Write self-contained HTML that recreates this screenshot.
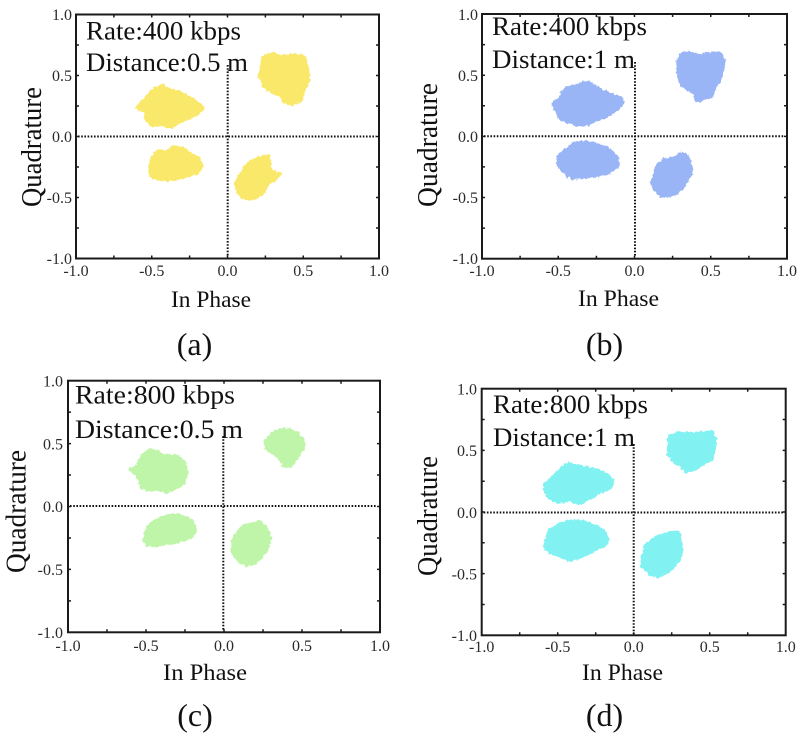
<!DOCTYPE html>
<html><head><meta charset="utf-8"><style>
html,body{margin:0;padding:0;background:#fff;}
svg{display:block;}
text{font-family:"Liberation Serif","Times New Roman",serif;}
.t{font-size:16px;fill:#2a2a2a;}
.ann{font-size:26px;fill:#111;}
.ax{font-size:23px;fill:#111;}
.q{font-size:29px;fill:#111;}
.lab{font-size:32px;fill:#111;}
.fr{fill:none;stroke:#1a1a1a;stroke-width:2;}
.tk{fill:none;stroke:#1a1a1a;stroke-width:1.5;}
.dl{stroke:#111;stroke-width:2;stroke-dasharray:1.6 1.6;}
.bl polygon{stroke-width:3.5;stroke-linejoin:round;}
</style></head><body>
<svg width="800" height="738" viewBox="0 0 800 738" xmlns="http://www.w3.org/2000/svg">
<defs>
<filter id="rough" x="-10%" y="-10%" width="120%" height="120%">
<feTurbulence type="fractalNoise" baseFrequency="0.35" numOctaves="2" seed="3"/>
<feDisplacementMap in="SourceGraphic" scale="4" xChannelSelector="R" yChannelSelector="G"/>
</filter>
</defs>
<rect width="800" height="738" fill="#fff"/>

<!-- ============ Panel (a) ============ -->
<g class="bl" filter="url(#rough)" fill="#FAE86A" stroke="#FAE86A">
<polygon points="263,57 272,54 283,57 292,55 300,56 305,58 307,68 309,80 304,90 301,100 292,104 284,102 280,94 272,92 264,86 260,76 262,66"/>
<polygon points="140,104 148,96 155,88 162,86 170,90 180,92 190,98 198,104 203,108 197,114 188,118 180,122 170,127 162,124 152,125 146,120 146,112 137,108"/>
<polygon points="152,158 158,151 166,152 174,147 182,148 190,154 198,158 202,166 198,172 190,175 180,178 168,180 158,179 151,176 150,166"/>
<polygon points="240,176 246,166 252,161 262,157 268,156 270,166 272,172 280,174 275,179 268,184 262,194 252,199 244,198 238,192 236,183"/>
</g>
<line class="dl" x1="78" y1="136.5" x2="376" y2="136.5"/>
<line class="dl" x1="227.7" y1="65" x2="227.7" y2="257"/>
<rect class="fr" x="76" y="14.5" width="303" height="244"/>
<path class="tk" d="M113.9 258.5v-3M151.75 258.5v-3M189.6 258.5v-3M227.5 258.5v-3M265.4 258.5v-3M303.25 258.5v-3M341.1 258.5v-3
M113.9 14.5v3M151.75 14.5v3M189.6 14.5v3M227.5 14.5v3M265.4 14.5v3M303.25 14.5v3M341.1 14.5v3
M76 45h3M76 75.5h3M76 106h3M76 136.5h3M76 167h3M76 197.5h3M76 228h3
M379 45h-3M379 75.5h-3M379 106h-3M379 136.5h-3M379 167h-3M379 197.5h-3M379 228h-3"/>
<g class="t" text-anchor="end">
<text x="72" y="20">1.0</text><text x="72" y="81">0.5</text><text x="72" y="142">0.0</text><text x="72" y="203">-0.5</text><text x="72" y="264">-1.0</text>
</g>
<g class="t" text-anchor="middle">
<text x="76" y="276">-1.0</text><text x="151.75" y="276">-0.5</text><text x="227.5" y="276">0.0</text><text x="303.25" y="276">0.5</text><text x="379" y="276">1.0</text>
</g>
<text class="ann" x="86" y="39.3" textLength="155" lengthAdjust="spacingAndGlyphs">Rate:400 kbps</text>
<text class="ann" x="86" y="71" textLength="162" lengthAdjust="spacingAndGlyphs">Distance:0.5 m</text>
<text class="ax" x="171" y="307" textLength="80" lengthAdjust="spacingAndGlyphs">In Phase</text>
<text class="q" transform="translate(41,147) rotate(-90)" text-anchor="middle" textLength="120" lengthAdjust="spacingAndGlyphs">Quadrature</text>
<text class="lab" x="194.5" y="355" text-anchor="middle">(a)</text>

<!-- ============ Panel (b) ============ -->
<g class="bl" filter="url(#rough)" fill="#99B5F5" stroke="#99B5F5">
<polygon points="680,55 690,53 700,56 710,54 720,53 724,60 722,72 720,80 714,88 712,96 704,98 700,101 696,100 694,92 686,88 680,82 678,72 678,62"/>
<polygon points="553,104 560,98 566,88 576,86 585,82 592,84 600,90 610,94 620,98 623,103 616,110 606,116 596,120 588,124 578,125 568,122 560,118 556,110"/>
<polygon points="558,157 566,150 574,143 588,142 600,146 610,150 617,158 618,166 610,172 598,175 585,177 572,178 564,172 558,165"/>
<polygon points="654,176 657,166 664,160 674,158 682,153 688,157 690,164 691,174 686,182 680,190 672,195 662,196 655,190 652,182"/>
</g>
<line class="dl" x1="484" y1="136.3" x2="784" y2="136.3"/>
<line class="dl" x1="635" y1="62" x2="635" y2="257"/>
<rect class="fr" x="482" y="14" width="305" height="244.7"/>
<path class="tk" d="M520.1 258.7v-3M558.25 258.7v-3M596.4 258.7v-3M634.5 258.7v-3M672.6 258.7v-3M710.75 258.7v-3M748.9 258.7v-3
M520.1 14v3M558.25 14v3M596.4 14v3M634.5 14v3M672.6 14v3M710.75 14v3M748.9 14v3
M482 44.6h3M482 75.2h3M482 105.8h3M482 136.35h3M482 166.9h3M482 197.5h3M482 228.1h3
M787 44.6h-3M787 75.2h-3M787 105.8h-3M787 136.35h-3M787 166.9h-3M787 197.5h-3M787 228.1h-3"/>
<g class="t" text-anchor="end">
<text x="478" y="20">1.0</text><text x="478" y="81">0.5</text><text x="478" y="142">0.0</text><text x="478" y="203">-0.5</text><text x="478" y="264">-1.0</text>
</g>
<g class="t" text-anchor="middle">
<text x="482" y="276">-1.0</text><text x="558.25" y="276">-0.5</text><text x="634.5" y="276">0.0</text><text x="710.75" y="276">0.5</text><text x="787" y="276">1.0</text>
</g>
<text class="ann" x="492" y="35" textLength="155" lengthAdjust="spacingAndGlyphs">Rate:400 kbps</text>
<text class="ann" x="492" y="68" textLength="143" lengthAdjust="spacingAndGlyphs">Distance:1 m</text>
<text class="ax" x="578" y="306" textLength="81" lengthAdjust="spacingAndGlyphs">In Phase</text>
<text class="q" transform="translate(437,145) rotate(-90)" text-anchor="middle" textLength="124" lengthAdjust="spacingAndGlyphs">Quadrature</text>
<text class="lab" x="604.5" y="355" text-anchor="middle">(b)</text>

<!-- ============ Panel (c) ============ -->
<g class="bl" filter="url(#rough)" fill="#BEF5A8" stroke="#BEF5A8">
<polygon points="266,440 272,434 280,430 290,430 298,434 303,440 304,446 300,452 296,460 290,466 284,466 280,458 272,452 266,448"/>
<polygon points="130,470 138,466 142,456 150,450 158,452 164,456 176,456 184,462 187,472 184,482 176,488 166,492 158,489 150,490 142,488 140,480 136,474"/>
<polygon points="146,532 150,524 158,519 168,516 178,515 188,518 194,524 195,532 190,538 180,541 168,543 156,545 148,545 144,540"/>
<polygon points="233,540 238,532 244,526 252,524 260,522 266,528 270,538 268,548 262,556 254,563 246,565 238,560 232,552"/>
</g>
<line class="dl" x1="70" y1="506" x2="377" y2="506"/>
<line class="dl" x1="223.3" y1="436" x2="223.3" y2="631"/>
<rect class="fr" x="68" y="380.7" width="312" height="251.6"/>
<path class="tk" d="M107 632.3v-3M146 632.3v-3M185 632.3v-3M224 632.3v-3M263 632.3v-3M302 632.3v-3M341 632.3v-3
M107 380.7v3M146 380.7v3M185 380.7v3M224 380.7v3M263 380.7v3M302 380.7v3M341 380.7v3
M68 412.1h3M68 443.6h3M68 475.05h3M68 506.5h3M68 537.95h3M68 569.4h3M68 600.85h3
M380 412.1h-3M380 443.6h-3M380 475.05h-3M380 506.5h-3M380 537.95h-3M380 569.4h-3M380 600.85h-3"/>
<g class="t" text-anchor="end">
<text x="63" y="386.5">1.0</text><text x="63" y="449.5">0.5</text><text x="63" y="512">0.0</text><text x="63" y="575">-0.5</text><text x="63" y="638">-1.0</text>
</g>
<g class="t" text-anchor="middle">
<text x="68" y="651">-1.0</text><text x="146" y="651">-0.5</text><text x="224" y="651">0.0</text><text x="302" y="651">0.5</text><text x="380" y="651">1.0</text>
</g>
<text class="ann" x="75" y="403.5" textLength="160" lengthAdjust="spacingAndGlyphs">Rate:800 kbps</text>
<text class="ann" x="75" y="438" textLength="168" lengthAdjust="spacingAndGlyphs">Distance:0.5 m</text>
<text class="ax" x="163" y="680" textLength="84" lengthAdjust="spacingAndGlyphs">In Phase</text>
<text class="q" transform="translate(25.5,511.5) rotate(-90)" text-anchor="middle" textLength="123" lengthAdjust="spacingAndGlyphs">Quadrature</text>
<text class="lab" x="195" y="726" text-anchor="middle">(c)</text>

<!-- ============ Panel (d) ============ -->
<g class="bl" filter="url(#rough)" fill="#82F1F2" stroke="#82F1F2">
<polygon points="670,436 680,433 692,434 702,433 712,432 715,440 714,450 712,458 706,462 700,466 692,470 686,472 682,466 674,462 668,454 669,444"/>
<polygon points="545,484 552,478 560,470 568,464 578,466 586,468 596,470 606,474 613,480 610,488 600,492 590,498 580,503 570,500 558,502 550,498 546,492"/>
<polygon points="546,540 550,530 560,524 572,521 584,522 596,526 604,532 608,540 604,546 594,550 582,556 570,560 560,556 550,552 545,548"/>
<polygon points="643,556 646,546 652,540 660,536 670,533 678,532 680,540 682,550 679,560 672,568 664,574 656,576 648,572 642,566"/>
</g>
<line class="dl" x1="483.7" y1="512.5" x2="783" y2="512.5"/>
<line class="dl" x1="633.7" y1="444" x2="633.7" y2="634"/>
<rect class="fr" x="481.7" y="388.7" width="304" height="246.6"/>
<path class="tk" d="M519.7 635.3v-3M557.7 635.3v-3M595.7 635.3v-3M633.7 635.3v-3M671.7 635.3v-3M709.7 635.3v-3M747.7 635.3v-3
M519.7 388.7v3M557.7 388.7v3M595.7 388.7v3M633.7 388.7v3M671.7 388.7v3M709.7 388.7v3M747.7 388.7v3
M481.7 419.5h3M481.7 450.35h3M481.7 481.2h3M481.7 512h3M481.7 542.8h3M481.7 573.65h3M481.7 604.5h3
M785.7 419.5h-3M785.7 450.35h-3M785.7 481.2h-3M785.7 512h-3M785.7 542.8h-3M785.7 573.65h-3M785.7 604.5h-3"/>
<g class="t" text-anchor="end">
<text x="477" y="394.5">1.0</text><text x="477" y="456">0.5</text><text x="477" y="518">0.0</text><text x="477" y="579.5">-0.5</text><text x="477" y="641">-1.0</text>
</g>
<g class="t" text-anchor="middle">
<text x="481.7" y="652">-1.0</text><text x="557.7" y="652">-0.5</text><text x="633.7" y="652">0.0</text><text x="709.7" y="652">0.5</text><text x="785.7" y="652">1.0</text>
</g>
<text class="ann" x="493" y="413" textLength="155" lengthAdjust="spacingAndGlyphs">Rate:800 kbps</text>
<text class="ann" x="493" y="446" textLength="142" lengthAdjust="spacingAndGlyphs">Distance:1 m</text>
<text class="ax" x="582" y="680" textLength="81" lengthAdjust="spacingAndGlyphs">In Phase</text>
<text class="q" transform="translate(437,516) rotate(-90)" text-anchor="middle" textLength="120" lengthAdjust="spacingAndGlyphs">Quadrature</text>
<text class="lab" x="604.5" y="726" text-anchor="middle">(d)</text>
</svg>
</body></html>
